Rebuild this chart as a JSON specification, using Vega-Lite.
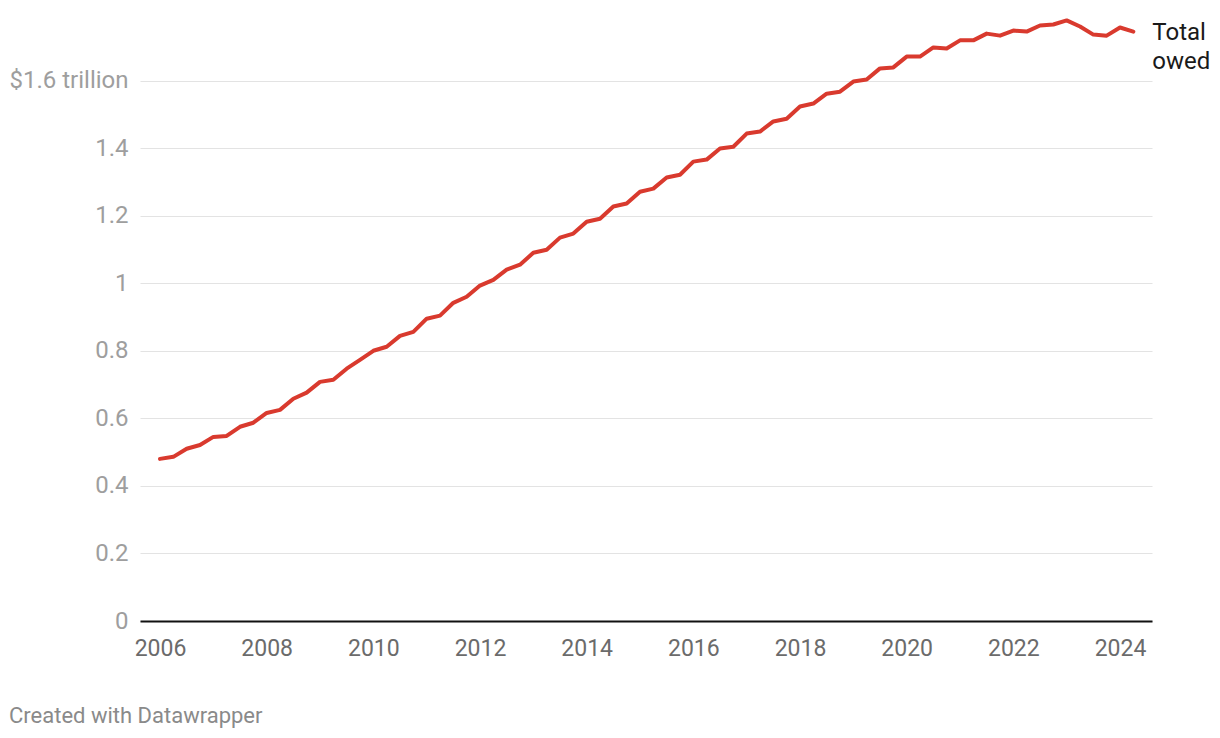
{
  "$schema": "https://vega.github.io/schema/vega-lite/v6.json",
  "width": 1012,
  "height": 608,
  "autosize": {"type": "none"},
  "padding": {"left": 140, "top": 13, "right": 68, "bottom": 117},
  "background": "white",
  "title": {
    "text": "Created with Datawrapper",
    "orient": "bottom",
    "anchor": "start",
    "frame": "bounds",
    "font": "Roboto",
    "fontSize": 22,
    "fontWeight": "normal",
    "color": "#8a8a8a",
    "offset": 46
  },
  "data": {
    "values": [
      {"t": 2006.0, "owed": 0.480}, {"t": 2006.25, "owed": 0.486}, {"t": 2006.5, "owed": 0.510}, {"t": 2006.75, "owed": 0.521},
      {"t": 2007.0, "owed": 0.545}, {"t": 2007.25, "owed": 0.548}, {"t": 2007.5, "owed": 0.575}, {"t": 2007.75, "owed": 0.587},
      {"t": 2008.0, "owed": 0.616}, {"t": 2008.25, "owed": 0.625}, {"t": 2008.5, "owed": 0.658}, {"t": 2008.75, "owed": 0.676},
      {"t": 2009.0, "owed": 0.708}, {"t": 2009.25, "owed": 0.714}, {"t": 2009.5, "owed": 0.747}, {"t": 2009.75, "owed": 0.773},
      {"t": 2010.0, "owed": 0.800}, {"t": 2010.25, "owed": 0.812}, {"t": 2010.5, "owed": 0.844}, {"t": 2010.75, "owed": 0.856},
      {"t": 2011.0, "owed": 0.895}, {"t": 2011.25, "owed": 0.904}, {"t": 2011.5, "owed": 0.942}, {"t": 2011.75, "owed": 0.960},
      {"t": 2012.0, "owed": 0.993}, {"t": 2012.25, "owed": 1.010}, {"t": 2012.5, "owed": 1.040}, {"t": 2012.75, "owed": 1.055},
      {"t": 2013.0, "owed": 1.090}, {"t": 2013.25, "owed": 1.099}, {"t": 2013.5, "owed": 1.135}, {"t": 2013.75, "owed": 1.147},
      {"t": 2014.0, "owed": 1.182}, {"t": 2014.25, "owed": 1.191}, {"t": 2014.5, "owed": 1.227}, {"t": 2014.75, "owed": 1.236},
      {"t": 2015.0, "owed": 1.271}, {"t": 2015.25, "owed": 1.280}, {"t": 2015.5, "owed": 1.313}, {"t": 2015.75, "owed": 1.321},
      {"t": 2016.0, "owed": 1.360}, {"t": 2016.25, "owed": 1.366}, {"t": 2016.5, "owed": 1.399}, {"t": 2016.75, "owed": 1.404},
      {"t": 2017.0, "owed": 1.443}, {"t": 2017.25, "owed": 1.449}, {"t": 2017.5, "owed": 1.479}, {"t": 2017.75, "owed": 1.487},
      {"t": 2018.0, "owed": 1.523}, {"t": 2018.25, "owed": 1.532}, {"t": 2018.5, "owed": 1.561}, {"t": 2018.75, "owed": 1.567},
      {"t": 2019.0, "owed": 1.597}, {"t": 2019.25, "owed": 1.603}, {"t": 2019.5, "owed": 1.636}, {"t": 2019.75, "owed": 1.639},
      {"t": 2020.0, "owed": 1.671}, {"t": 2020.25, "owed": 1.671}, {"t": 2020.5, "owed": 1.698}, {"t": 2020.75, "owed": 1.695},
      {"t": 2021.0, "owed": 1.719}, {"t": 2021.25, "owed": 1.719}, {"t": 2021.5, "owed": 1.739}, {"t": 2021.75, "owed": 1.733},
      {"t": 2022.0, "owed": 1.748}, {"t": 2022.25, "owed": 1.745}, {"t": 2022.5, "owed": 1.763}, {"t": 2022.75, "owed": 1.766},
      {"t": 2023.0, "owed": 1.778}, {"t": 2023.25, "owed": 1.760}, {"t": 2023.5, "owed": 1.736}, {"t": 2023.75, "owed": 1.733},
      {"t": 2024.0, "owed": 1.757}, {"t": 2024.25, "owed": 1.745}
    ]
  },
  "encoding": {
    "x": {
      "field": "t",
      "type": "quantitative",
      "scale": {"domain": [2005.625, 2024.6], "nice": false, "zero": false},
      "axis": {
        "title": null,
        "values": [2006, 2008, 2010, 2012, 2014, 2016, 2018, 2020, 2022, 2024],
        "format": "d",
        "grid": false,
        "ticks": false,
        "domain": true,
        "domainColor": "#111111",
        "domainWidth": 2,
        "labelFont": "Roboto",
        "labelFontSize": 23,
        "labelColor": "#6b6b6b",
        "labelPadding": 16
      }
    },
    "y": {
      "field": "owed",
      "type": "quantitative",
      "scale": {"domain": [0, 1.8], "nice": false},
      "axis": {
        "title": null,
        "values": [0, 0.2, 0.4, 0.6, 0.8, 1, 1.2, 1.4, 1.6],
        "labelExpr": "datum.value == 1.6 ? '$1.6 trillion' : format(datum.value, '~g')",
        "grid": true,
        "gridColor": "#e3e3e3",
        "gridWidth": 1,
        "ticks": false,
        "domain": false,
        "labelFont": "Roboto",
        "labelFontSize": 24,
        "labelColor": "#9e9e9e",
        "labelPadding": 12
      }
    }
  },
  "layer": [
    {
      "mark": {"type": "line", "color": "#d93a2e", "strokeWidth": 4, "strokeJoin": "round", "strokeCap": "round"}
    },
    {
      "transform": [{"filter": "datum.t == 2024.25"}],
      "mark": {
        "type": "text",
        "text": ["Total", "owed"],
        "align": "left",
        "baseline": "top",
        "dx": 19,
        "dy": -11,
        "font": "Roboto",
        "fontSize": 24,
        "lineHeight": 29,
        "color": "#1a1a1a"
      }
    }
  ],
  "config": {
    "view": {"stroke": null},
    "font": "Roboto"
  }
}
